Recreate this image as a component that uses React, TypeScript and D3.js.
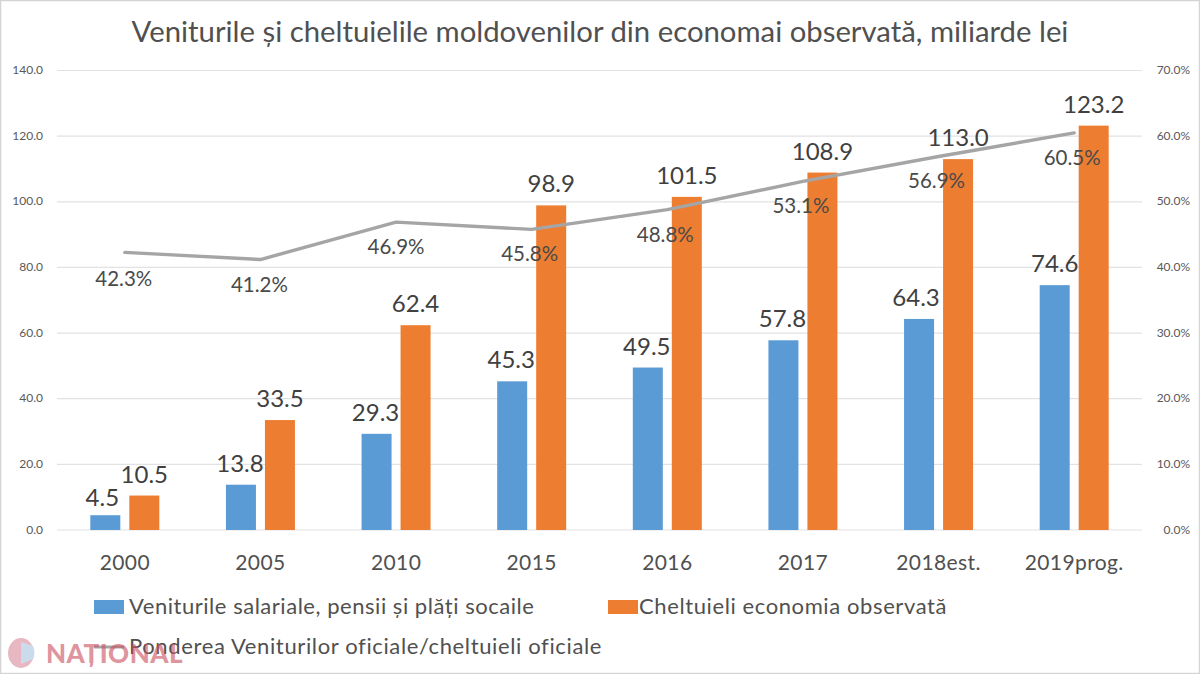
import React from "react";
import * as d3 from "d3";

const categories = ["2000", "2005", "2010", "2015", "2016", "2017", "2018est.", "2019prog."];
const incomes = [4.5, 13.8, 29.3, 45.3, 49.5, 57.8, 64.3, 74.6];
const expenses = [10.5, 33.5, 62.4, 98.9, 101.5, 108.9, 113.0, 123.2];
const shares = [42.3, 41.2, 46.9, 45.8, 48.8, 53.1, 56.9, 60.5];
const leftTicks = [0, 20, 40, 60, 80, 100, 120, 140];
const rightTicks = [0, 10, 20, 30, 40, 50, 60, 70];
const seriesKeys = ["inc", "exp"];
const title = "Veniturile și cheltuielile moldovenilor din economai observată, miliarde lei";
const legendIncome = "Veniturile salariale, pensii și plăți socaile";
const legendExpense = "Cheltuieli economia observată";
const legendShare = "Ponderea Veniturilor oficiale/cheltuieli oficiale";

const FONT = "Lato, 'Open Sans', sans-serif";
const BLUE = "#5b9bd5";
const ORANGE = "#ed7d31";
const GRAY = "#a5a5a5";
const TEXT = "#505050";

export default function App() {
  const x0 = d3.scaleBand<string>().domain(categories).range([57, 1142]);
  const x1 = d3.scaleBand<string>().domain(seriesKeys).range([0, 69]).paddingInner(9 / 39).paddingOuter(0);
  const yL = d3.scaleLinear().domain([0, 140]).range([530, 70.5]);
  const yR = d3.scaleLinear().domain([0, 70]).range([530, 70.5]);
  const groupX = (c: string) => (x0(c) as number) + (x0.bandwidth() - 69) / 2;
  const center = (c: string) => (x0(c) as number) + x0.bandwidth() / 2;
  const line = d3.line<number>().x((_, i) => center(categories[i])).y((d) => yR(d));

  return (
    <div style={{ position: "absolute", left: 0, top: 0, width: 1200, height: 674, background: "#fff" }}>
      <svg width={1200} height={674} style={{ display: "block", fontFamily: FONT }}>
        <rect x={0.5} y={0.5} width={1199} height={673} fill="#fff" stroke="#d4d4d4" strokeWidth={1.5} />
        <text x={600} y={42} textAnchor="middle" fontSize={29.3} fill={TEXT}>{title}</text>

        {leftTicks.map((t) => (
          <g key={t}>
            <line x1={57} x2={1142} y1={yL(t)} y2={yL(t)} stroke="#e2e2e2" strokeWidth={1.2} />
            <text x={43} y={yL(t) + 3.5} textAnchor="end" fontSize={12} fill="#595959">{t.toFixed(1)}</text>
          </g>
        ))}
        {rightTicks.map((t) => (
          <text key={t} x={1190} y={yR(t) + 3.5} textAnchor="end" fontSize={12} fill="#595959">{t.toFixed(1)}%</text>
        ))}

        {categories.map((c, i) => (
          <g key={c}>
            <rect x={groupX(c) + (x1("inc") as number)} y={yL(incomes[i])} width={x1.bandwidth()} height={530 - yL(incomes[i])} fill={BLUE} />
            <rect x={groupX(c) + (x1("exp") as number)} y={yL(expenses[i])} width={x1.bandwidth()} height={530 - yL(expenses[i])} fill={ORANGE} />
          </g>
        ))}

        <path d={line(shares) as string} fill="none" stroke={GRAY} strokeWidth={3.4} strokeLinejoin="round" strokeLinecap="round" />

        {categories.map((c, i) => (
          <g key={c} fill="#404040" fontSize={24} textAnchor="middle">
            <text x={groupX(c) + (x1("inc") as number) + x1.bandwidth() / 2} y={yL(incomes[i]) - (i === 0 ? 9 : 13)} dx={i === 0 ? -3 : i === 7 ? 0 : i === 6 ? -3 : -1}>{incomes[i].toFixed(1)}</text>
            <text x={groupX(c) + (x1("exp") as number) + x1.bandwidth() / 2} y={yL(expenses[i]) - 13}>{expenses[i].toFixed(1)}</text>
            <text x={center(c)} y={yR(shares[i]) + (i === 0 ? 34 : 32)} fontSize={20.5} fill="#4a4a4a" dx={i < 2 ? -1 : i === 2 ? 0 : -2}>{shares[i].toFixed(1)}%</text>
            <text x={center(c)} y={570} fontSize={21} letterSpacing={0.4} fill={TEXT}>{c}</text>
          </g>
        ))}

        <rect x={94} y={600} width={30} height={14} fill={BLUE} />
        <text x={129} y={614} fontSize={22} letterSpacing={0.53} fill={TEXT}>{legendIncome}</text>
        <rect x={608} y={600} width={30} height={14} fill={ORANGE} />
        <text x={639} y={614} fontSize={22} letterSpacing={0.6} fill={TEXT}>{legendExpense}</text>
        <line x1={94} x2={124} y1={647} y2={647} stroke={GRAY} strokeWidth={3} />
        <text x={129} y={654} fontSize={22} letterSpacing={0.63} fill={TEXT}>{legendShare}</text>

        <g opacity={0.6}>
          <ellipse cx={21} cy={653} rx={13} ry={15} fill="#d98a9a" />
          <path d="M21 642 L33 646 A13 15 0 0 1 33 659 L21 664 Z" fill="#a8c4de" />
          <text x={46} y={663} fontSize={26} fontWeight={900} fill="#c9505f" letterSpacing={0.5}>NAȚIONAL</text>
        </g>
      </svg>
    </div>
  );
}
